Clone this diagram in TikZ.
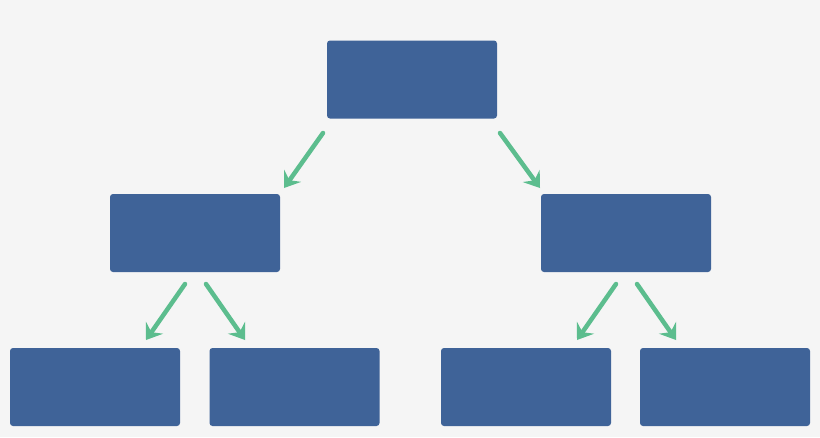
\documentclass[tikz,border=0pt]{standalone}
\usetikzlibrary{arrows.meta}
\definecolor{bg}{HTML}{F5F5F5}
\definecolor{boxblue}{HTML}{3F6398}
\definecolor{arrgreen}{HTML}{5CBD8E}
\begin{document}
\begin{tikzpicture}[x=1pt,y=-1pt,
  box/.style={fill=boxblue,draw=none,rounded corners=3pt,minimum width=170pt,minimum height=78pt,inner sep=0pt},
  conn/.style={draw=arrgreen,line width=4.5pt,line cap=round,-{Stealth[length=15pt,width=21pt,inset=5.5pt,line width=0pt]}}]
\fill[bg] (0,0) rectangle (820,437);
\useasboundingbox (0,0) rectangle (820,437);
\node[box] (top) at (412,79.5) {};
\node[box] (ml) at (195,233) {};
\node[box] (mr) at (626,233) {};
\node[box] (b1) at (95,387) {};
\node[box] (b2) at (294.5,387) {};
\node[box] (b3) at (526,387) {};
\node[box] (b4) at (725,387) {};
\coordinate (s1) at (323,133);
\coordinate (e1) at (284,188);
\coordinate (s2) at (500,133);
\coordinate (e2) at (540,188);
\coordinate (s3) at (185,284);
\coordinate (e3) at (146,340);
\coordinate (s4) at (206,284);
\coordinate (e4) at (245,340);
\coordinate (s5) at (616,284);
\coordinate (e5) at (577,340);
\coordinate (s6) at (637,284);
\coordinate (e6) at (676,340);
\draw[conn] (s1) -- (e1);
\draw[conn] (s2) -- (e2);
\draw[conn] (s3) -- (e3);
\draw[conn] (s4) -- (e4);
\draw[conn] (s5) -- (e5);
\draw[conn] (s6) -- (e6);
\end{tikzpicture}
\end{document}
